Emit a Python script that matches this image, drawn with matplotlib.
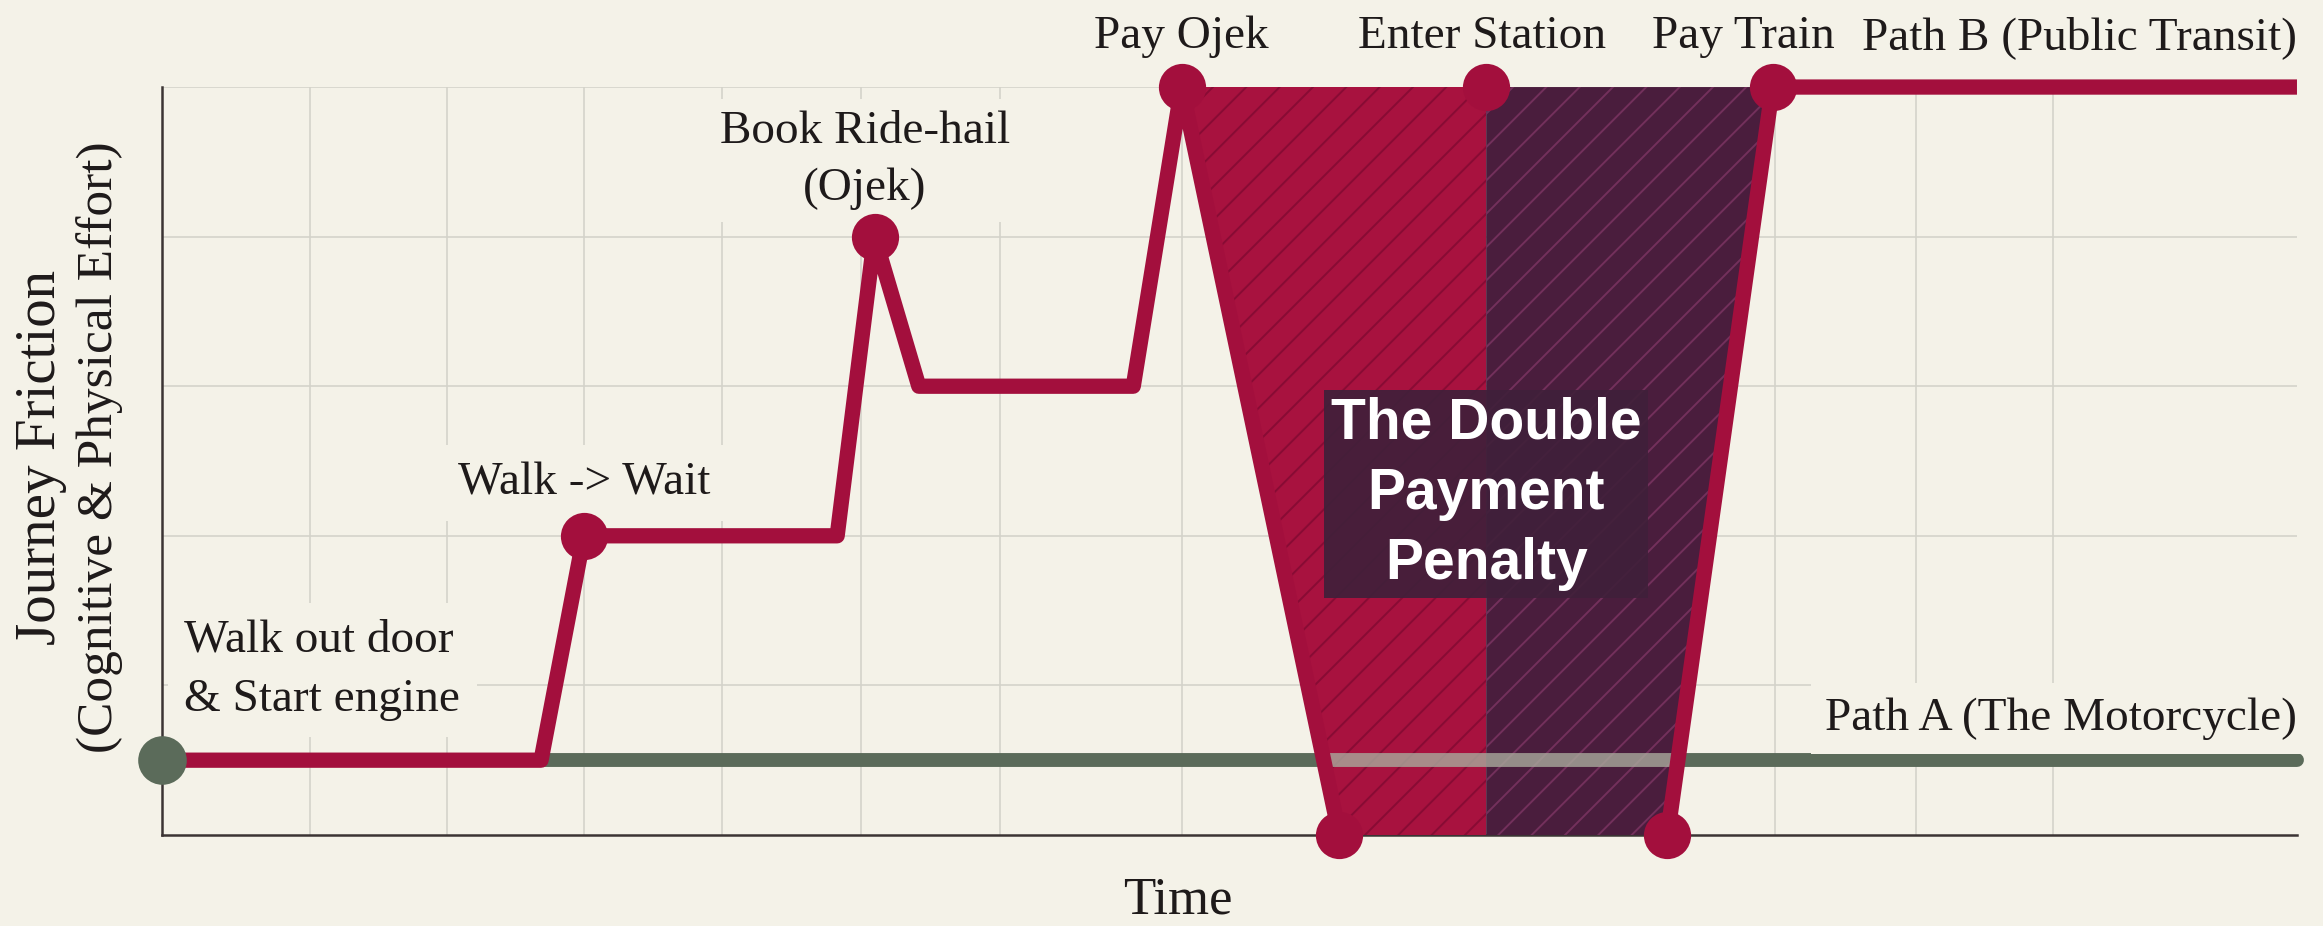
import matplotlib.pyplot as plt
import numpy as np

BG = "#f4f2e8"
GRID = "#d4d3ca"
INK = "#1e1a1a"
RED = "#a30f3d"
FILL_RED = "#a8123f"
HATCH_RED = "#880b34"
FILL_PURPLE = "#4a1d3d"
HATCH_PURPLE = "#73305c"
GREEN = "#5b6b5a"

# path B (public transit): x = time, y = friction
path_b_x = [0.0, 2.74, 3.05, 4.88, 5.15, 5.47, 7.02, 7.37, 8.51, 10.88, 11.64, 15.43]
path_b_y = [0.5, 0.5, 2.0, 2.0, 4.0, 3.0, 3.0, 5.0, 0.0, 0.0, 5.0, 5.0]
# path A (motorcycle)
path_a_x = [0.0, 15.43]
path_a_y = [0.5, 0.5]

milestones = ["Walk -> Wait", "Book Ride-hail\n(Ojek)", "Pay Ojek", "Enter Station", "Pay Train"]
milestone_x = [3.05, 5.15, 7.37, 9.57, 11.64]
milestone_y = [2.0, 4.0, 5.0, 5.0, 5.0]
dip_x = [8.51, 10.88]
dip_y = [0.0, 0.0]

grid_x = [1.07, 2.06, 3.05, 4.05, 5.05, 6.06, 7.37, 11.66, 12.68, 13.67]
grid_y = [1, 2, 3, 4, 5]

plt.rcParams["hatch.linewidth"] = 1.4
SERIF = "Liberation Serif"

fig = plt.figure(figsize=(23.23, 9.26), dpi=100, facecolor=BG)
ax = fig.add_axes([0.0697, 0.0983, 0.9191, 0.8077], facecolor=BG)
ax.set_xlim(0, 15.43)
ax.set_ylim(0, 5)
ax.set_xticks(grid_x)
ax.set_yticks(grid_y)
ax.tick_params(length=0, labelbottom=False, labelleft=False)
ax.grid(True, color=GRID, lw=1.2, zorder=0)
ax.set_axisbelow(True)
for s in ["top", "right"]:
    ax.spines[s].set_visible(False)
for s in ["left", "bottom"]:
    ax.spines[s].set_color("#3b3434")
    ax.spines[s].set_linewidth(1.8)

# double payment penalty region, split at "Enter Station"
x_ojek, x_dl, x_dr, x_train = path_b_x[7], path_b_x[8], path_b_x[9], path_b_x[10]
x_split = milestone_x[3]
top = path_b_y[7]
ax.fill([x_ojek, x_split, x_split, x_dl], [top, top, 0, 0],
        facecolor=FILL_RED, edgecolor=HATCH_RED, hatch="/", lw=0, zorder=3)
ax.fill([x_split, x_train, x_dr, x_split], [top, top, 0, 0],
        facecolor=FILL_PURPLE, edgecolor=HATCH_PURPLE, hatch="/", lw=0, zorder=3)

# path A
ax.plot(path_a_x, path_a_y, color=GREEN, lw=10, solid_capstyle="round", zorder=2, clip_on=False)
xl = np.interp(path_a_y[0], [0, top], [x_dl, x_ojek])
xr = np.interp(path_a_y[0], [0, top], [x_dr, x_train])
ax.plot([xl, xr], path_a_y, color="#a9aa9d", lw=10, alpha=0.8, solid_capstyle="butt", zorder=4)

# path B (no red along the bottom of the penalty region)
ax.plot(path_b_x[:9], path_b_y[:9], color=RED, lw=11, solid_capstyle="butt", zorder=5, clip_on=False)
ax.plot(path_b_x[9:], path_b_y[9:], color=RED, lw=11, solid_capstyle="butt", zorder=5, clip_on=False)

ax.plot(milestone_x, milestone_y, "o", color=RED, ms=34, mec="none", zorder=6, clip_on=False)
ax.plot(dip_x, dip_y, "o", color=RED, ms=34, mec="none", zorder=6, clip_on=False)
ax.plot(path_a_x[0], path_a_y[0], "o", color=GREEN, ms=35, mec="none", zorder=7, clip_on=False)

label_kw = dict(textcoords="offset points", fontsize=34, family=SERIF, color=INK, zorder=5.5,
                annotation_clip=False)
box = dict(boxstyle="square,pad=0.35", fc=BG, ec="none")

ax.annotate("Walk out door\n& Start engine", (path_a_x[0], path_a_y[0]), xytext=(16, 65),
            ha="left", va="center", linespacing=1.5, bbox=box, **label_kw)
ax.annotate(milestones[0], (milestone_x[0], milestone_y[0]), xytext=(0, 38),
            ha="center", va="center", bbox=box, **label_kw)
ax.annotate(milestones[1], (milestone_x[1], milestone_y[1]), xytext=(-7, 55),
            ha="center", va="center", linespacing=1.45,
            bbox=dict(boxstyle="square,pad=0.25", fc=BG, ec="none"), **label_kw)
for lab, x, y, dx in zip(milestones[2:], milestone_x[2:], milestone_y[2:], [0, -3, -21]):
    ax.annotate(lab, (x, y), xytext=(dx, 28), ha="center", va="baseline", **label_kw)
ax.annotate("Path B (Public Transit)", (path_b_x[-1], path_b_y[-1]), xytext=(0, 27),
            ha="right", va="baseline", **label_kw)
ax.annotate("Path A (The Motorcycle)", (path_a_x[-1], path_a_y[-1]), xytext=(0, 22),
            ha="right", va="baseline", bbox=dict(boxstyle="square,pad=0.3", fc=BG, ec="none"),
            **label_kw)

ax.text(x_split, 2.28, "The Double\nPayment\nPenalty", ha="center", va="center",
        fontsize=41, fontweight="bold", family="Liberation Sans", color="white",
        linespacing=1.38, zorder=9,
        bbox=dict(boxstyle="square,pad=0.12", fc="#40203a", ec="none", alpha=0.92))

fig.text(0.0177, 0.506, "Journey Friction", rotation=90, ha="center", va="center",
         fontsize=41, family=SERIF, color=INK)
fig.text(0.0428, 0.517, "(Cognitive & Physical Effort)", rotation=90, ha="center", va="center",
         fontsize=37, family=SERIF, color=INK)
fig.text(0.507, 0.028, "Time", ha="center", va="center", fontsize=38, family=SERIF, color=INK)

fig.savefig("out.png", dpi=100, facecolor=BG)
